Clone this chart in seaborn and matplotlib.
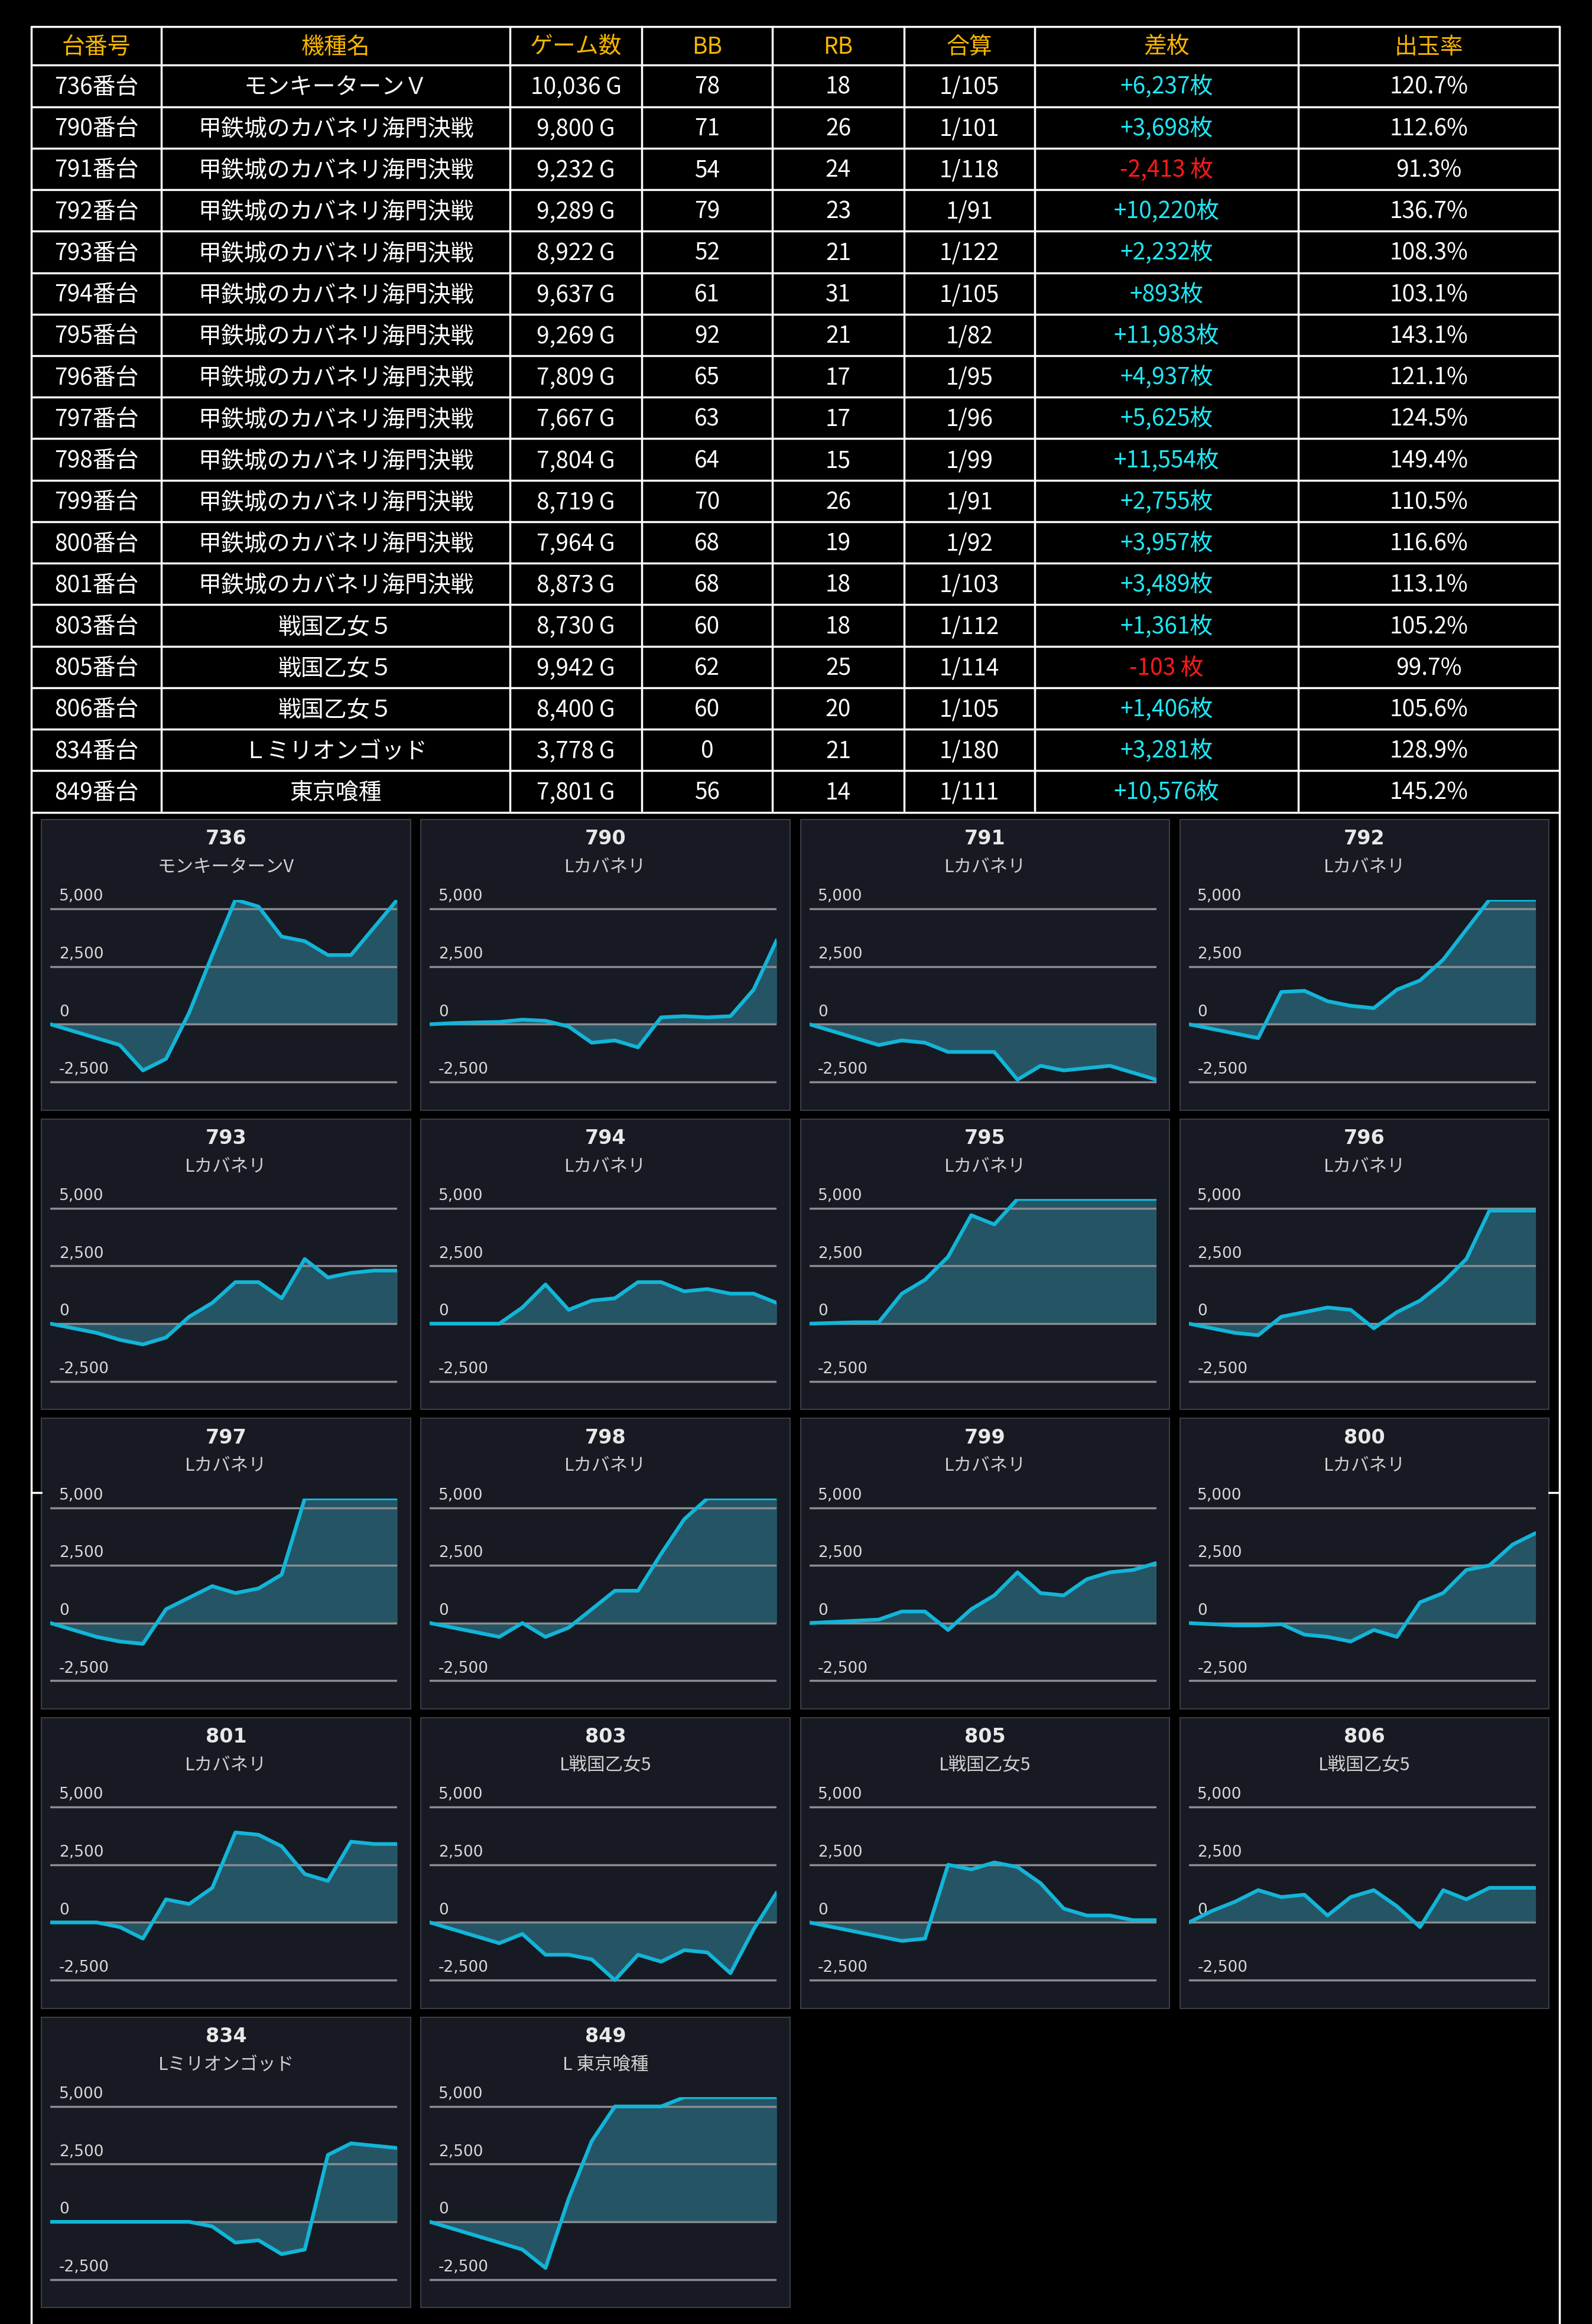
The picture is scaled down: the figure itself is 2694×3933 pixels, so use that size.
import matplotlib
matplotlib.use("Agg")
import matplotlib.pyplot as plt
import seaborn as sns
import pandas as pd
from matplotlib.patches import Rectangle
from matplotlib.lines import Line2D

sns.set_style("dark")
plt.rcParams['font.family'] = ['Noto Sans CJK JP', 'DejaVu Sans']

headers = ["台番号", "機種名", "ゲーム数", "BB", "RB", "合算", "差枚", "出玉率"]
machines = ["736番台", "790番台", "791番台", "792番台", "793番台", "794番台", "795番台", "796番台", "797番台",
            "798番台", "799番台", "800番台", "801番台", "803番台", "805番台", "806番台", "834番台", "849番台"]
names = ["モンキーターンＶ"] + ["甲鉄城のカバネリ海門決戦"] * 12 + ["戦国乙女５"] * 3 + ["Ｌミリオンゴッド", "東京喰種"]
games = ["10,036 G", "9,800 G", "9,232 G", "9,289 G", "8,922 G", "9,637 G", "9,269 G", "7,809 G", "7,667 G",
         "7,804 G", "8,719 G", "7,964 G", "8,873 G", "8,730 G", "9,942 G", "8,400 G", "3,778 G", "7,801 G"]
bb = [78, 71, 54, 79, 52, 61, 92, 65, 63, 64, 70, 68, 68, 60, 62, 60, 0, 56]
rb = [18, 26, 24, 23, 21, 31, 21, 17, 17, 15, 26, 19, 18, 18, 25, 20, 21, 14]
combined = ["1/105", "1/101", "1/118", "1/91", "1/122", "1/105", "1/82", "1/95", "1/96", "1/99", "1/91", "1/92",
            "1/103", "1/112", "1/114", "1/105", "1/180", "1/111"]
diff = ["+6,237枚", "+3,698枚", "-2,413 枚", "+10,220枚", "+2,232枚", "+893枚", "+11,983枚", "+4,937枚", "+5,625枚",
        "+11,554枚", "+2,755枚", "+3,957枚", "+3,489枚", "+1,361枚", "-103 枚", "+1,406枚", "+3,281枚", "+10,576枚"]
rate = ["120.7%", "112.6%", "91.3%", "136.7%", "108.3%", "103.1%", "143.1%", "121.1%", "124.5%", "149.4%",
        "110.5%", "116.6%", "113.1%", "105.2%", "99.7%", "105.6%", "128.9%", "145.2%"]

panel_ids = ["736", "790", "791", "792", "793", "794", "795", "796", "797", "798", "799", "800", "801", "803",
             "805", "806", "834", "849"]
panel_names = ["モンキーターンV"] + ["Lカバネリ"] * 12 + ["L戦国乙女5"] * 3 + ["Lミリオンゴッド", "L 東京喰種"]
series = [
    [0, -300, -600, -900, -2000, -1500, 500, 3000, 5400, 5100, 3800, 3600, 3000, 3000, 4200, 5400],
    [0, 50, 80, 100, 200, 150, -100, -800, -700, -1000, 300, 350, 300, 350, 1500, 3650],
    [0, -300, -600, -900, -700, -800, -1200, -1200, -1200, -2400, -1800, -2000, -1900, -1800, -2100, -2400],
    [0, -200, -400, -600, 1400, 1450, 1000, 800, 700, 1500, 1900, 2800, 4100, 5400, 5400, 5400],
    [0, -200, -400, -700, -900, -600, 300, 900, 1800, 1800, 1100, 2800, 2000, 2200, 2300, 2300],
    [0, 0, 0, 0, 700, 1700, 600, 1000, 1100, 1800, 1800, 1400, 1500, 1300, 1300, 900],
    [0, 30, 60, 60, 1300, 1900, 2900, 4700, 4300, 5400, 5400, 5400, 5400, 5400, 5400, 5400],
    [0, -200, -400, -500, 300, 500, 700, 600, -200, 500, 1000, 1800, 2800, 4900, 4900, 4900],
    [0, -300, -600, -800, -900, 600, 1100, 1600, 1300, 1500, 2100, 5400, 5400, 5400, 5400, 5400],
    [0, -200, -400, -600, 0, -600, -200, 600, 1400, 1400, 3000, 4500, 5400, 5400, 5400, 5400],
    [0, 50, 100, 150, 500, 500, -300, 600, 1200, 2200, 1300, 1200, 1900, 2200, 2300, 2600],
    [0, -50, -100, -100, -50, -500, -600, -800, -300, -600, 900, 1300, 2300, 2500, 3400, 3900],
    [0, 0, 0, -200, -700, 1000, 800, 1500, 3900, 3800, 3300, 2100, 1800, 3500, 3400, 3400],
    [0, -300, -600, -900, -500, -1400, -1400, -1600, -2500, -1400, -1700, -1200, -1300, -2200, -300, 1300],
    [0, -200, -400, -600, -800, -700, 2500, 2300, 2600, 2400, 1700, 600, 300, 300, 100, 100],
    [0, 500, 900, 1400, 1100, 1200, 300, 1100, 1400, 700, -200, 1400, 1000, 1500, 1500, 1500],
    [0, 0, 0, 0, 0, 0, 0, -200, -900, -800, -1400, -1200, 2900, 3400, 3300, 3200],
    [0, -300, -600, -900, -1200, -2000, 1000, 3500, 5000, 5000, 5000, 5400, 5400, 5400, 5400, 5400],
]
yticks = [-2500, 0, 2500, 5000]

W, H = 1074, 1568
fig = plt.figure(figsize=(26.94, 39.33), dpi=100, facecolor="black")

def fx(x): return x / W
def fy(y): return 1 - y / H

def hline(x0, x1, y, c="white", lw=2.5):
    fig.add_artist(Line2D([fx(x0), fx(x1)], [fy(y), fy(y)], color=c, lw=lw, transform=fig.transFigure))

def vline(x, y0, y1, c="white", lw=2.5):
    fig.add_artist(Line2D([fx(x), fx(x)], [fy(y0), fy(y1)], color=c, lw=lw, transform=fig.transFigure))

# table
cols = [21, 109, 344, 433, 521, 610, 698, 876, 1052]
row_y = [18, 44] + [44 + 28 * (i + 1) for i in range(18)]
for y in row_y:
    hline(21, 1052, y)
for x in cols:
    vline(x, 18, 547)
vline(21, 547, 1568)
vline(1052, 547, 1568)
hline(21, 28, 1007)
hline(1045, 1052, 1007)

fs = 28
for j, h in enumerate(headers):
    fig.text(fx((cols[j] + cols[j + 1]) / 2), fy(32), h, color="#f7b500", fontsize=fs, ha="center", va="center")
for i in range(18):
    yc = fy((row_y[i + 1] + row_y[i + 2]) / 2 + 1)
    vals = [machines[i], names[i], games[i], str(bb[i]), str(rb[i]), combined[i], diff[i], rate[i]]
    for j, v in enumerate(vals):
        c = "white"
        if j == 6:
            c = "#ff1a1a" if v.startswith("-") else "#1ee8f5"
        fig.text(fx((cols[j] + cols[j + 1]) / 2), yc, v, color=c, fontsize=fs, ha="center", va="center")

# panels
px = [28, 284, 540, 796]
py = [553, 755, 957, 1159, 1361]
pw, ph = 249, 196
for k in range(18):
    r, c = divmod(k, 4)
    x0, y0 = px[c], py[r]
    fig.add_artist(Rectangle((fx(x0), fy(y0 + ph)), pw / W, ph / H, transform=fig.transFigure,
                             facecolor="#171a22", edgecolor="#3a3d45", lw=1.5, zorder=0))
    fig.text(fx(x0 + pw / 2), fy(y0 + 13), panel_ids[k], color="#e8e8e8", fontsize=24, weight="bold",
             ha="center", va="center", family=["DejaVu Sans"])
    fig.text(fx(x0 + pw / 2), fy(y0 + 32), panel_names[k], color="#d0d0d0", fontsize=22,
             ha="center", va="center")
    ax = fig.add_axes([fx(x0 + 6), fy(y0 + 184), 234 / W, 130 / H])
    ax.set_facecolor("none")
    for s in ax.spines.values():
        s.set_visible(False)
    vals = series[k]
    df = pd.DataFrame({"x": range(len(vals)), "y": vals})
    ax.fill_between(df["x"], df["y"], 0, color="#2a6a7c", alpha=0.75, lw=0, zorder=1)
    for t in yticks:
        ax.axhline(t, color="#8a8d93", lw=2.5, zorder=2)
        ax.text(0.025, t + 200, f"{t:,}", transform=ax.get_yaxis_transform(), color="#d8d8d8",
                fontsize=19, ha="left", va="bottom", family=["DejaVu Sans"])
    sns.lineplot(data=df, x="x", y="y", ax=ax, color="#12b5d8", lw=4.5, zorder=3)
    ax.set_xlim(0, len(vals) - 1)
    ax.set_ylim(-2950, 5400)
    ax.set_xticks([]); ax.set_yticks([])
    ax.set_xlabel(""); ax.set_ylabel("")

fig.savefig("out.png", dpi=100, facecolor="black")
